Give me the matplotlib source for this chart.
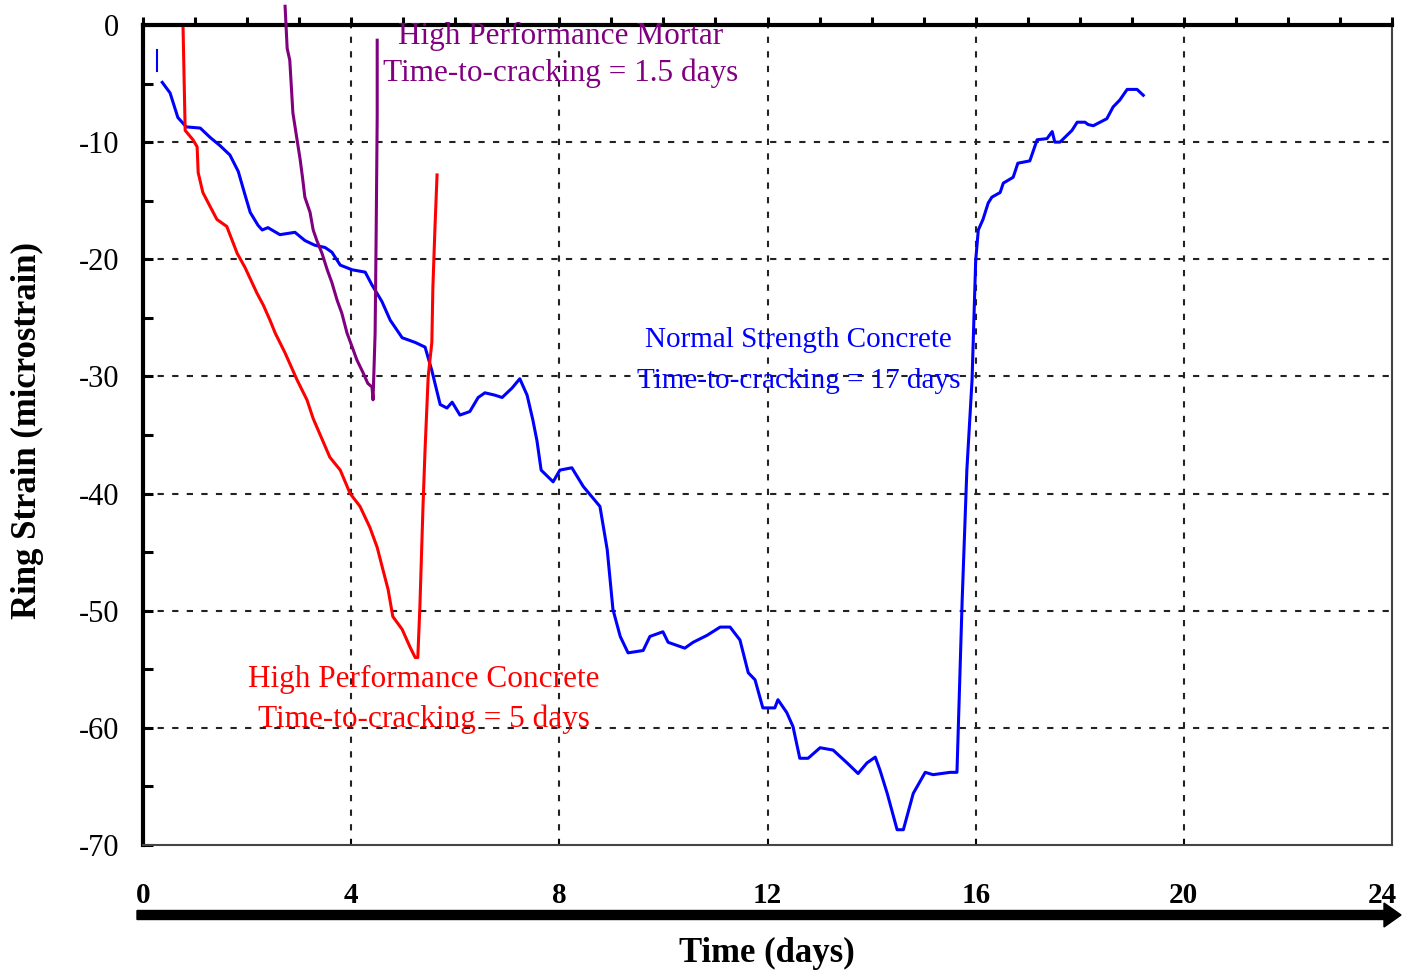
import matplotlib
matplotlib.use("Agg")
import matplotlib.pyplot as plt
import matplotlib.transforms as mtransforms
import numpy as np

# ---------------- data ----------------
nsc_days = [0.37, 0.52, 0.67, 0.83, 1.10, 1.29, 1.48, 1.67, 1.83, 1.96, 2.06, 2.21, 2.29, 2.40, 2.63,
            2.92, 3.11, 3.30, 3.50, 3.63, 3.79, 4.02, 4.27, 4.40, 4.59, 4.75, 4.98, 5.23, 5.42, 5.55,
            5.71, 5.84, 5.94, 6.09, 6.28, 6.44, 6.57, 6.76, 6.90, 7.09, 7.24, 7.38, 7.49, 7.57, 7.65,
            7.88, 8.01, 8.24, 8.46, 8.78, 8.92, 9.03, 9.17, 9.32, 9.61, 9.74, 9.99, 10.09, 10.41,
            10.57, 10.84, 11.09, 11.28, 11.47, 11.63, 11.76, 11.91, 12.14, 12.20, 12.37, 12.49, 12.62,
            12.78, 13.01, 13.26, 13.53, 13.74, 13.91, 14.07, 14.16, 14.30, 14.49, 14.61, 14.80, 15.03,
            15.18, 15.51, 15.64, 15.74, 15.83, 15.93, 16.00, 16.05, 16.14, 16.24, 16.31, 16.47, 16.53,
            16.72, 16.81, 17.04, 17.18, 17.37, 17.47, 17.52, 17.62, 17.85, 17.95, 18.10, 18.16, 18.26,
            18.39, 18.52, 18.64, 18.77, 18.91, 19.10, 19.22]
nsc_strain = [-4.9, -5.8, -7.9, -8.7, -8.8, -9.6, -10.3, -11.1, -12.5, -14.5, -16.0, -17.1, -17.5, -17.3, -17.9,
              -17.7, -18.4, -18.8, -19.0, -19.4, -20.5, -20.9, -21.1, -22.2, -23.6, -25.2, -26.7, -27.1, -27.5, -29.5,
              -32.4, -32.7, -32.2, -33.3, -33.0, -31.8, -31.4, -31.6, -31.8, -31.0, -30.2, -31.6, -33.7, -35.5, -38.0,
              -39.0, -38.0, -37.8, -39.4, -41.1, -44.8, -49.9, -52.2, -53.6, -53.4, -52.2, -51.8, -52.7, -53.2,
              -52.7, -52.1, -51.4, -51.4, -52.5, -55.3, -55.9, -58.3, -58.3, -57.6, -58.7, -59.9, -62.6,
              -62.6, -61.7, -61.9, -63.0, -63.9, -63.0, -62.5, -63.6, -65.6, -68.7, -68.7, -65.6, -63.8,
              -64.0, -63.8, -63.8, -49.1, -38.0, -30.3, -20.1, -17.5, -16.6, -15.2, -14.7, -14.3, -13.5,
              -13.0, -11.8, -11.6, -9.8, -9.7, -9.1, -10.0, -10.0, -9.0, -8.3, -8.3, -8.5, -8.6,
              -8.3, -8.0, -7.0, -6.4, -5.5, -5.5, -6.0]
nsc_start_days = [0.27, 0.27]
nsc_start_strain = [-2.1, -3.9]

hpc_days = [0.77, 0.81, 0.96, 1.04, 1.06, 1.15, 1.29, 1.42, 1.61, 1.81, 1.96, 2.19, 2.31, 2.44, 2.54,
            2.73, 2.82, 2.96, 3.15, 3.27, 3.59, 3.79, 3.98, 4.17, 4.36, 4.50, 4.61, 4.71, 4.80, 4.98,
            5.13, 5.23, 5.28, 5.32, 5.38, 5.42, 5.48, 5.55, 5.57, 5.61, 5.65]
hpc_strain = [-0.3, -9.0, -9.8, -10.4, -12.6, -14.3, -15.5, -16.6, -17.2, -19.5, -20.7, -22.9, -23.9, -25.2, -26.3,
              -28.0, -28.9, -30.3, -32.0, -33.6, -36.9, -38.0, -40.0, -41.1, -42.9, -44.6, -46.5, -48.2, -50.5, -51.6,
              -53.1, -54.0, -54.0, -49.7, -41.1, -36.2, -30.0, -27.1, -22.4, -17.3, -12.8]

hpm_days = [2.73, 2.77, 2.82, 2.88, 2.96, 3.02, 3.07, 3.11, 3.21, 3.27, 3.34, 3.44, 3.54, 3.63, 3.73,
            3.82, 3.92, 4.02, 4.11, 4.23, 4.32, 4.40, 4.42, 4.46, 4.48, 4.50, 4.50]
hpm_strain = [1.6, -2.0, -3.0, -7.5, -9.8, -11.5, -13.2, -14.7, -16.0, -17.5, -18.4, -19.5, -20.9, -22.0, -23.5,
              -24.6, -26.3, -27.5, -28.6, -29.7, -30.6, -30.9, -32.0, -26.3, -17.8, -7.8, -1.3]

x_ticks = [0, 4, 8, 12, 16, 20, 24]
y_ticks = [0, -10, -20, -30, -40, -50, -60, -70]

labels = {
    "hpm": ["High Performance Mortar", "Time-to-cracking = 1.5 days"],
    "nsc": ["Normal Strength Concrete", "Time-to-cracking = 17 days"],
    "hpc": ["High Performance Concrete", "Time-to-cracking = 5 days"],
}

# ---------------- plot ----------------
SERIF = ["Liberation Serif", "DejaVu Serif"]
plt.rcParams['font.family'] = SERIF

fig = plt.figure(figsize=(14.02, 9.72), dpi=100)
ax = fig.add_axes([0.102, 0.1307, 0.8909, 0.8436])

BLUE = "#0000FF"
RED = "#FF0000"
PURPLE = "#800080"

ax.plot(nsc_start_days, nsc_start_strain, color=BLUE, lw=1.5)
ax.plot(nsc_days, nsc_strain, color=BLUE, lw=2.2, zorder=3)
ax.plot(hpc_days, hpc_strain, color=RED, lw=2.2, zorder=3)
ax.plot(hpm_days, hpm_strain, color=PURPLE, lw=2.2, zorder=3, clip_on=False)

ax.set_xlim(0, 24)
ax.set_ylim(-70, 0)

# grid
for xv in x_ticks[1:-1]:
    ax.axvline(xv, color="#222222", lw=1.5, ls=(0, (3, 4)), zorder=1)
for yv in y_ticks[1:-1]:
    ax.axhline(yv, color="#222222", lw=1.5, ls=(0, (3, 4)), zorder=1)

# spines
ax.spines['left'].set_linewidth(3.0)
ax.spines['top'].set_linewidth(3.0)
ax.spines['right'].set_linewidth(1.5)
ax.spines['right'].set_color("#444444")
ax.spines['bottom'].set_linewidth(1.5)
ax.spines['bottom'].set_color("#444444")

ax.set_xticks(x_ticks)
ax.set_xticklabels([str(v) for v in x_ticks], fontsize=21, fontweight='bold')
ax.tick_params(axis='x', direction='in', length=4, width=1.2, pad=27)
# last label ("24") sits at the right edge; nudge it slightly left so it is not cut
lbl = ax.get_xticklabels()[-1]
lbl.set_transform(lbl.get_transform() + mtransforms.ScaledTranslation(-10 / 100, 0, fig.dpi_scale_trans))

ax.set_yticks(y_ticks)
ax.set_yticklabels([str(v) for v in y_ticks], fontsize=22)
ax.tick_params(axis='y', direction='in', length=7.5, width=2.2, pad=17)
ax.set_yticks(np.arange(-70, 1, 5), minor=True)
ax.tick_params(axis='y', which='minor', direction='in', length=7.5, width=2.2)

# top ticks: every day, outward
top = ax.secondary_xaxis('top')
top.set_xticks(np.arange(0, 25, 1))
top.set_xticklabels([])
top.tick_params(direction='out', length=6, width=2.2)
top.spines['top'].set_visible(False)

# annotations
FS = 22.5
ax.text(8.03, -1.0, labels["hpm"][0], color=PURPLE, fontsize=FS, ha='center', va='center')
ax.text(8.03, -4.1, labels["hpm"][1], color=PURPLE, fontsize=FS, ha='center', va='center')
ax.text(12.6, -26.9, labels["nsc"][0], color=BLUE, fontsize=21, ha='center', va='center')
ax.text(12.6, -30.4, labels["nsc"][1], color=BLUE, fontsize=21, ha='center', va='center')
ax.text(5.4, -55.9, labels["hpc"][0], color=RED, fontsize=FS, ha='center', va='center')
ax.text(5.4, -59.3, labels["hpc"][1], color=RED, fontsize=FS, ha='center', va='center')

# axis labels
fig.text(0.0193, 0.5576, "Ring Strain (microstrain)", rotation=90, fontsize=25,
         fontweight='bold', ha='center', va='center')
fig.text(0.547, 0.0195, "Time (days)", fontsize=25, fontweight='bold', ha='center', va='center')

# arrow under the axis
fig.patches.append(matplotlib.patches.FancyArrow(
    137 / 1402, 1 - 915 / 972, (1384 - 137) / 1402, 0, width=9 / 972,
    head_width=24 / 972, head_length=17 / 1402, length_includes_head=False,
    color='black', transform=fig.transFigure, figure=fig))

fig.savefig("out.png", dpi=100)
